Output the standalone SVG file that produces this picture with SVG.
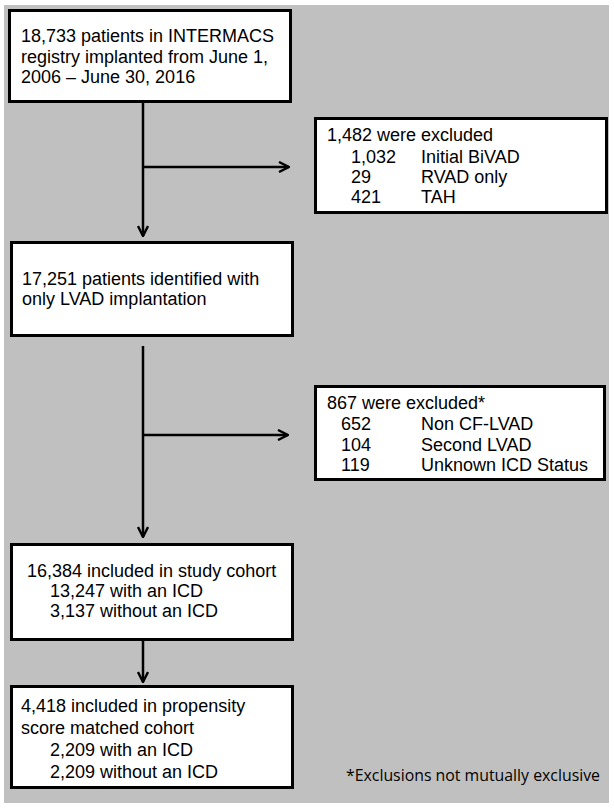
<svg xmlns="http://www.w3.org/2000/svg" width="614" height="811" viewBox="0 0 614 811">
<defs>
<marker id="ah" viewBox="0 0 12 12" refX="11" refY="6" markerWidth="12" markerHeight="12" markerUnits="userSpaceOnUse" orient="auto">
<path d="M1,1 L11,6 L1,11" fill="none" stroke="#000" stroke-width="2.4"/>
</marker>
<style>
.box{fill:#fff;stroke:#000;stroke-width:3}
.t{font-family:"Liberation Sans",Arial,sans-serif;font-size:18px;fill:#000}
.c{fill:none;stroke:#000;stroke-width:2.5}
.fn{font-family:"Open Sans","Noto Sans",sans-serif;font-size:16px;fill:#000}
</style>
</defs>
<rect x="0" y="0" width="614" height="811" fill="#fff"/>
<rect x="4" y="5" width="605" height="798" fill="#c0c0c0"/>
<g id="connectors">
<line class="c" x1="143" y1="102" x2="143" y2="236" marker-end="url(#ah)"/>
<line class="c" x1="143" y1="167" x2="289" y2="167" marker-end="url(#ah)"/>
<line class="c" x1="143" y1="346" x2="143" y2="537" marker-end="url(#ah)"/>
<line class="c" x1="143" y1="435" x2="288" y2="435" marker-end="url(#ah)"/>
<line class="c" x1="143" y1="640" x2="143" y2="682" marker-end="url(#ah)"/>
</g>
<g id="n1">
<rect class="box" x="9.5" y="10.5" width="281" height="91"/>
<text class="t" x="21" y="42">18,733 patients in INTERMACS</text>
<text class="t" x="21" y="62.5">registry implanted from June 1,</text>
<text class="t" x="21" y="83">2006 – June 30, 2016</text>
</g>
<g id="n2">
<rect class="box" x="315.5" y="118.5" width="291" height="94"/>
<text class="t" x="327" y="141">1,482 were excluded</text>
<text class="t" x="351" y="163">1,032</text><text class="t" x="421" y="163">Initial BiVAD</text>
<text class="t" x="351" y="183">29</text><text class="t" x="421" y="183">RVAD only</text>
<text class="t" x="351" y="203">421</text><text class="t" x="421" y="203">TAH</text>
</g>
<g id="n3">
<rect class="box" x="11.5" y="242.5" width="281" height="93"/>
<text class="t" x="22" y="285">17,251 patients identified with</text>
<text class="t" x="22" y="305">only LVAD implantation</text>
</g>
<g id="n4">
<rect class="box" x="315.5" y="386.5" width="289" height="93"/>
<text class="t" x="327" y="409">867 were excluded*</text>
<text class="t" x="341" y="430">652</text><text class="t" x="421" y="430">Non CF-LVAD</text>
<text class="t" x="341" y="451">104</text><text class="t" x="421" y="451">Second LVAD</text>
<text class="t" x="341" y="471">119</text><text class="t" x="421" y="471">Unknown ICD Status</text>
</g>
<g id="n5">
<rect class="box" x="11.5" y="544.5" width="281" height="95"/>
<text class="t" x="27" y="577">16,384 included in study cohort</text>
<text class="t" x="50" y="597">13,247 with an ICD</text>
<text class="t" x="50" y="617">3,137 without an ICD</text>
</g>
<g id="n6">
<rect class="box" x="11.5" y="686.5" width="281" height="101"/>
<text class="t" x="21" y="712">4,418 included in propensity</text>
<text class="t" x="21" y="734">score matched cohort</text>
<text class="t" x="50" y="756">2,209 with an ICD</text>
<text class="t" x="50" y="778">2,209 without an ICD</text>
</g>
<g id="footnote">
<text class="fn" x="346" y="781" textLength="254" lengthAdjust="spacingAndGlyphs">*Exclusions not mutually exclusive</text>
</g>
</svg>
